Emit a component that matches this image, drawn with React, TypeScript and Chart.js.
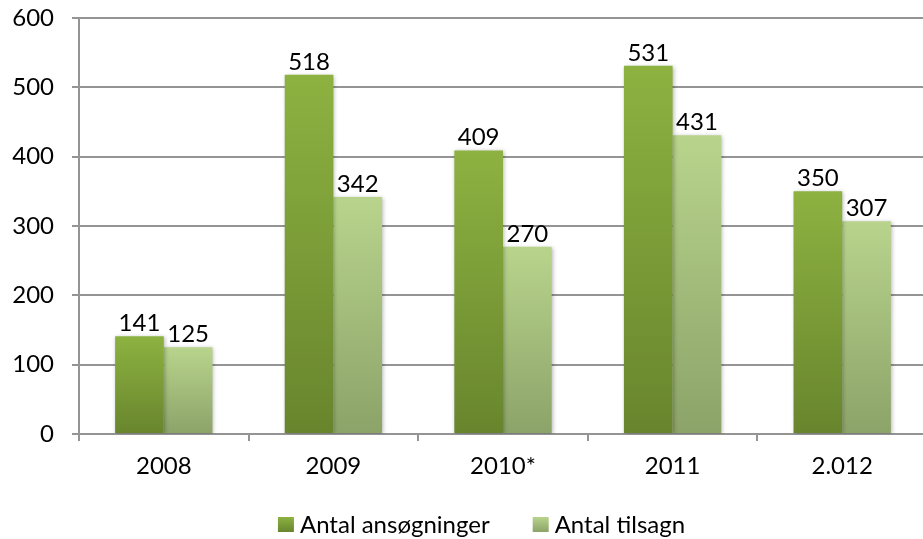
import React, { useEffect, useRef } from "react";
import { Chart, registerables } from "chart.js";

Chart.register(...registerables);

const categories = ["2008", "2009", "2010*", "2011", "2.012"];
const ansogninger = [141, 518, 409, 531, 350];
const tilsagn = [125, 342, 270, 431, 307];
const seriesNames = ["Antal ansøgninger", "Antal tilsagn"];
const yTicks = [0, 100, 200, 300, 400, 500, 600];

const FONT = "Lato, 'Noto Sans', sans-serif";
const FONT_SIZE = 24;
const GRID = "#949494";

const palette = [
  { top: "#8DB241", bottom: "#68852D" },
  { top: "#B8D48C", bottom: "#8CA369" },
];

function barGradient(dsIndex: number) {
  return (ctx: any) => {
    const chart = ctx.chart;
    const c = palette[dsIndex];
    if (!chart.chartArea || ctx.type !== "data") return c.top;
    const y = chart.scales.y;
    const top = y.getPixelForValue(ctx.raw);
    const bottom = y.getPixelForValue(0);
    const g = chart.ctx.createLinearGradient(0, top, 0, bottom);
    g.addColorStop(0, c.top);
    g.addColorStop(1, c.bottom);
    return g;
  };
}

const shadowPlugin = {
  id: "barShadow",
  beforeDatasetsDraw(chart: any) {
    const ctx = chart.ctx;
    ctx.save();
    ctx.shadowColor = "rgba(0,0,0,0.28)";
    ctx.shadowBlur = 4;
    ctx.shadowOffsetX = 1;
    ctx.shadowOffsetY = 1;
  },
  afterDatasetsDraw(chart: any) {
    chart.ctx.restore();
  },
};

const valueLabelPlugin = {
  id: "valueLabels",
  afterDraw(chart: any) {
    const ctx = chart.ctx;
    ctx.save();
    ctx.font = `${FONT_SIZE}px ${FONT}`;
    ctx.fillStyle = "#000";
    ctx.textAlign = "center";
    ctx.textBaseline = "alphabetic";
    chart.data.datasets.forEach((ds: any, i: number) => {
      const meta = chart.getDatasetMeta(i);
      meta.data.forEach((bar: any, j: number) => {
        ctx.fillText(String(ds.data[j]), bar.x, bar.y - 5);
      });
    });
    ctx.restore();
  },
};

const legendPlugin = {
  id: "customLegend",
  afterDraw(chart: any) {
    const ctx = chart.ctx;
    ctx.save();
    ctx.font = `${FONT_SIZE}px ${FONT}`;
    const box = 16;
    const gapText = 6;
    const gapItem = 43;
    const widths = seriesNames.map((n) => ctx.measureText(n).width);
    const total =
      widths.reduce((a, w) => a + box + gapText + w, 0) + gapItem * (seriesNames.length - 1);
    let x = 481.5 - total / 2;
    const cy = 524.5;
    seriesNames.forEach((name, i) => {
      const c = palette[i];
      const g = ctx.createLinearGradient(0, cy - 7.5, 0, cy + 7.5);
      g.addColorStop(0, c.top);
      g.addColorStop(1, c.bottom);
      ctx.fillStyle = g;
      ctx.fillRect(x, cy - 7.5, box, 15);
      x += box + gapText;
      ctx.fillStyle = "#000";
      ctx.textAlign = "left";
      ctx.textBaseline = "middle";
      ctx.fillText(name, x, cy + 1);
      x += widths[i] + gapItem;
    });
    ctx.restore();
  },
};

export default function App() {
  const ref = useRef<HTMLCanvasElement | null>(null);

  useEffect(() => {
    if (!ref.current) return;
    const chart = new Chart(ref.current, {
      type: "bar",
      data: {
        labels: categories,
        datasets: [
          {
            label: seriesNames[0],
            data: ansogninger,
            backgroundColor: barGradient(0),
            borderWidth: 0,
            barPercentage: 1,
            categoryPercentage: 0.574,
          },
          {
            label: seriesNames[1],
            data: tilsagn,
            backgroundColor: barGradient(1),
            borderWidth: 0,
            barPercentage: 1,
            categoryPercentage: 0.574,
          },
        ],
      },
      options: {
        animation: false,
        responsive: false,
        devicePixelRatio: 1,
        layout: { padding: { top: 18, left: 0, right: 1, bottom: 45 } },
        plugins: {
          legend: { display: false },
          tooltip: { enabled: false },
        },
        scales: {
          x: {
            grid: {
              display: true,
              drawOnChartArea: false,
              drawTicks: true,
              tickLength: 7,
              offset: true,
              color: GRID,
              lineWidth: 2,
            },
            border: { display: true, color: GRID, width: 2 },
            ticks: {
              color: "#000",
              font: { family: FONT, size: FONT_SIZE },
              padding: 11,
              maxRotation: 0,
            },
            afterFit(scale: any) {
              scale.height = 60;
              scale.paddingLeft = 0;
              scale.paddingRight = 0;
            },
          },
          y: {
            min: 0,
            max: 600,
            afterBuildTicks(scale: any) {
              scale.ticks = yTicks.map((v) => ({ value: v }));
            },
            grid: {
              color: GRID,
              lineWidth: 2,
              drawTicks: true,
              tickLength: 7,
            },
            border: { display: true, color: GRID, width: 2 },
            ticks: {
              color: "#000",
              font: { family: FONT, size: FONT_SIZE },
              padding: 18,
            },
            afterFit(scale: any) {
              scale.width = 79;
              scale.paddingTop = 0;
              scale.paddingBottom = 0;
            },
          },
        },
      },
      plugins: [shadowPlugin, valueLabelPlugin, legendPlugin],
    });
    return () => chart.destroy();
  }, []);

  return (
    <div
      style={{
        position: "fixed",
        left: 0,
        top: 0,
        width: 923,
        height: 539,
        overflow: "hidden",
        background: "#fff",
      }}
    >
      <canvas ref={ref} width={928} height={539} style={{ width: 928, height: 539, display: "block" }} />
    </div>
  );
}
